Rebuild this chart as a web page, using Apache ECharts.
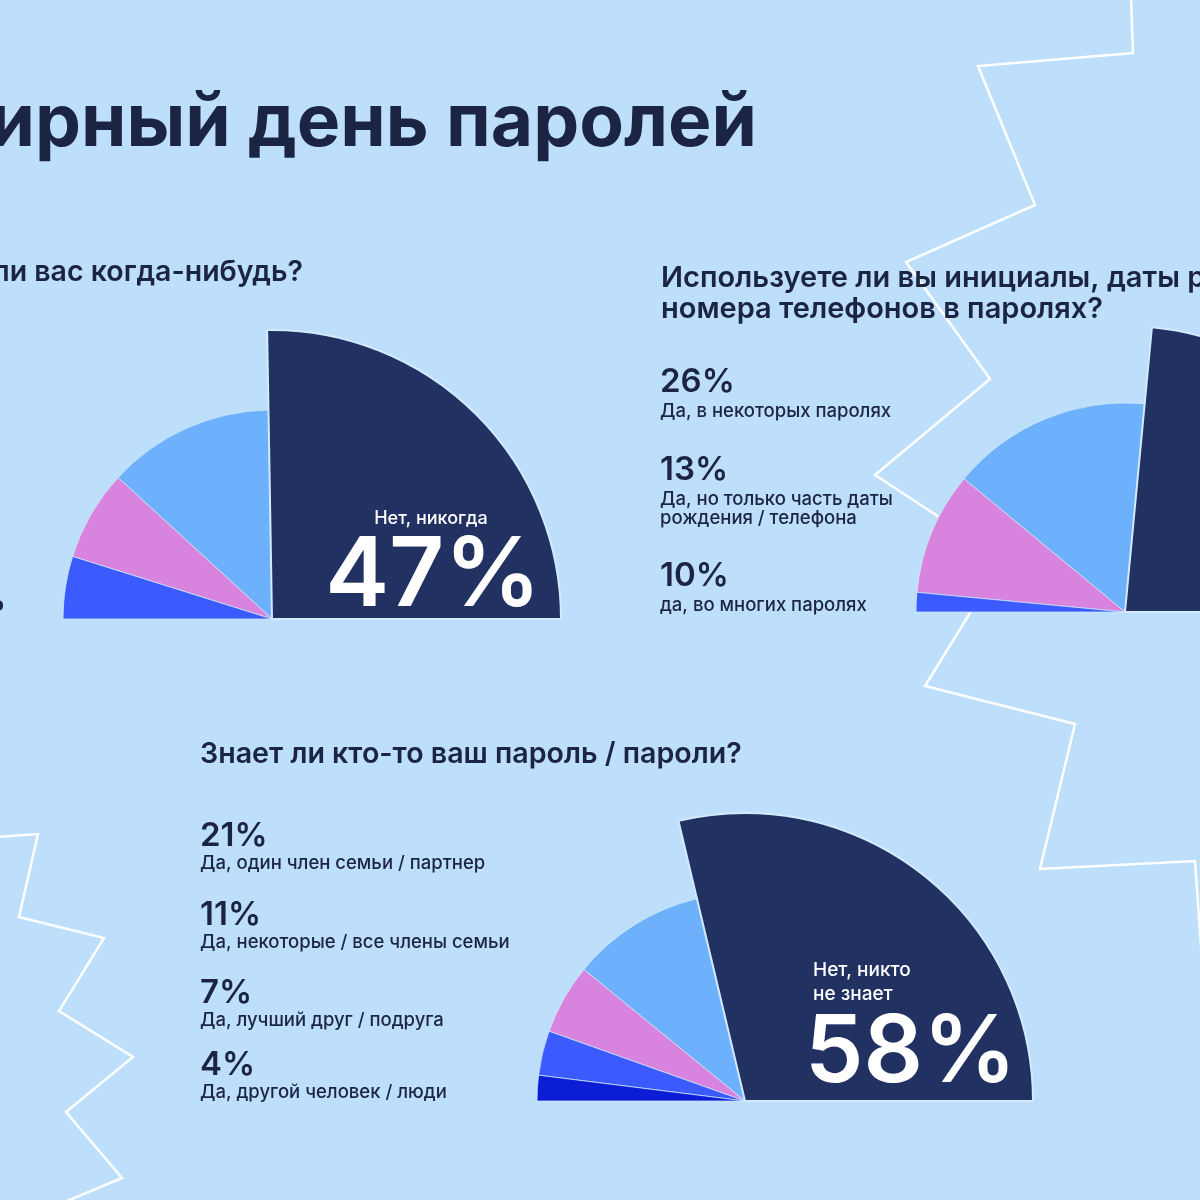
<!DOCTYPE html>
<html><head><meta charset="utf-8">
<script src="https://cdn.jsdelivr.net/npm/echarts@6/dist/echarts.min.js"></script>
<style>html,body{margin:0;padding:0;background:#bddffb}#c{width:1200px;height:1200px}</style>
</head><body><div id="c"></div>
<script>
// ---- data ----
const pageTitle = 'Всемирный день паролей';

const q1Title = 'Взламывали ли вас когда-нибудь?';
const q1Names = ['Нет, никогда', 'Да, один раз', 'Да, несколько раз', 'Не знаю'];
const q1Values = [47, 24, 13, 9];

const q2TitleLines = ['Используете ли вы инициалы, даты рождения или', 'номера телефонов в паролях?'];
const q2Names = ['Нет', 'Да, в некоторых паролях', 'Да, но только часть даты рождения / телефона', 'да, во многих паролях'];
const q2Values = [47, 31, 19, 3];
const q2LegendPct = [26, 13, 10];
const q2LegendLines = [['Да, в некоторых паролях'], ['Да, но только часть даты', 'рождения / телефона'], ['да, во многих паролях']];

const q3Title = 'Знает ли кто-то ваш пароль / пароли?';
const q3Names = ['Нет, никто не знает', 'Да, один член семьи / партнер', 'Да, некоторые / все члены семьи', 'Да, лучший друг / подруга', 'Да, другой человек / люди'];
const q3Values = [58, 21, 11, 7, 4];

const palette4 = ['#213262', '#6db0fb', '#d884df', '#3b5bff'];
const palette5 = ['#213262', '#6db0fb', '#d884df', '#3b5bff', '#0b1ed6'];

// ---- helpers ----
const FONT = 'Inter, "Noto Sans", sans-serif';
const DARK = '#1c2444';

function halfPie(center, names, values, cols, bigR, smallR) {
  const mk = (big) => ({
    type: 'pie', center: center, radius: [0, big ? bigR : smallR],
    startAngle: 0, endAngle: 180, clockwise: false,
    silent: true, animation: false, z: 2,
    label: { show: false }, labelLine: { show: false },
    data: names.map((n, i) => ({
      name: n, value: values[i],
      itemStyle: ((i === 0) === big)
        ? { color: cols[i], borderColor: big ? '#d3eafe' : 'rgba(214,236,255,0.7)', borderWidth: big ? 2 : 1 }
        : { color: 'rgba(0,0,0,0)', borderWidth: 0 }
    }))
  });
  return [mk(false), mk(true)];
}

function txt(text, x, y, size, weight, color, align) {
  return { type: 'text', x: x, y: y, z: 100, silent: true,
    style: { text: text, fill: color || DARK, font: (weight || 500) + ' ' + size + 'px ' + FONT,
      align: align || 'left', verticalAlign: 'middle' } };
}

const zigA = [[1131,-2],[1133,53],[978,66],[1035,205],[906,262],[990,379],[875,475],[1003,559],[970,613],[925,686],[1075,724],[1040,869],[1195,861],[1202,960]];
const zigB = [[-4,837],[38,834],[19,917],[104,938],[59,1011],[133,1057],[66,1112],[122,1178],[60,1204]];

const graphics = [
  { type: 'polyline', z: 0, silent: true, shape: { points: zigA }, style: { stroke: '#ffffff', lineWidth: 2.5, fill: null } },
  { type: 'polyline', z: 0, silent: true, shape: { points: zigB }, style: { stroke: '#ffffff', lineWidth: 2.5, fill: null } },
  txt(pageTitle, 757, 124, 73, 700, DARK, 'right'),
  txt(q1Title, 303, 272, 28.5, 600, DARK, 'right'),
  txt(q1Values[3] + '%', 6, 601, 33, 700, DARK, 'right'),
  txt(q1Names[0], 431, 519, 18, 500, '#ffffff', 'center'),
  txt(q1Values[0] + '%', 433, 577, 96, 600, '#ffffff', 'center'),
  txt(q2TitleLines[0], 661, 278, 29, 600),
  txt(q2TitleLines[1], 661, 309, 29, 600),
  txt(q3Title, 200, 754, 28.6, 600),
  txt(q3Names[0].split(' не ')[0], 813, 970, 19, 500, '#ffffff'),
  txt('не ' + q3Names[0].split(' не ')[1], 813, 994, 19, 500, '#ffffff'),
  txt(q3Values[0] + '%', 805, 1054, 93, 600, '#ffffff')
];

const q2PctY = [382, 470, 576];
q2LegendPct.forEach((p, i) => {
  graphics.push(txt(p + '%', 660, q2PctY[i], 33, 600));
  q2LegendLines[i].forEach((l, j) => graphics.push(txt(l, 660, q2PctY[i] + 29 + j * 19, 18.5, 500)));
});
const q3PctY = [836, 915, 993, 1065];
for (let i = 1; i < q3Values.length; i++) {
  graphics.push(txt(q3Values[i] + '%', 200, q3PctY[i - 1], 33, 600));
  graphics.push(txt(q3Names[i], 200, q3PctY[i - 1] + 27, 18.5, 500));
}

const chart = echarts.init(document.getElementById('c'), null, { renderer: 'canvas' });
chart.setOption({
  backgroundColor: '#bddffb',
  animation: false,
  series: [].concat(
    halfPie([272, 619], q1Names, q1Values, palette4, 289, 209),
    halfPie([1125, 612], q2Names, q2Values, palette4, 286, 209),
    halfPie([745, 1101], q3Names, q3Values, palette5, 288, 208)
  ),
  graphic: graphics
});
</script></body></html>
